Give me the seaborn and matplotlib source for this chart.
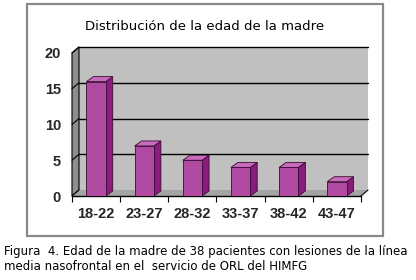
import matplotlib
matplotlib.use("Agg")
import matplotlib.pyplot as plt
import matplotlib.transforms as mtransforms
from matplotlib.patches import Polygon, Rectangle
import seaborn as sns

sns.set_style("white")
plt.rcParams['font.family'] = ['Liberation Sans', 'DejaVu Sans']

# data
age_groups = ["18-22", "23-27", "28-32", "33-37", "38-42", "43-47"]
counts = [16, 7, 5, 4, 4, 2]
y_ticks = [0, 5, 10, 15, 20]
title = "Distribución de la edad de la madre"
caption = ("Figura  4. Edad de la madre de 38 pacientes con lesiones de la línea\n"
           "media nasofrontal en el  servicio de ORL del HIMFG")

front_col = "#B04AA0"
side_col = "#8A1C7C"
top_col = "#C96BBB"
edge_col = "#3a0a35"

fig = plt.figure(figsize=(4.16, 2.8), dpi=100)
fig.patch.set_facecolor("white")

# outer frame of the chart
fig.add_artist(Rectangle((27 / 416, 1 - 236 / 280), 356 / 416, 232 / 280,
                         transform=fig.transFigure, fill=False,
                         edgecolor="#8a8a8a", lw=1.6))

ax = fig.add_axes([72 / 416, 1 - 196 / 280, 289 / 416, 143 / 280])
ax.set_facecolor("none")
ident = mtransforms.IdentityTransform()

# depth shift for the 3d look
depth = mtransforms.ScaledTranslation(7 / 100, 6 / 100, fig.dpi_scale_trans)
back = ax.transAxes + depth
back_y = ax.get_yaxis_transform() + depth
front = ax.transAxes

# back wall, left wall, floor
ax.add_patch(Rectangle((0, 0), 1, 1, transform=back, facecolor="#C0C0C0",
                       edgecolor="none", zorder=0, clip_on=False))
lw_pts = [front.transform((0, 0)), front.transform((0, 1)),
          back.transform((0, 1)), back.transform((0, 0))]
ax.add_patch(Polygon(lw_pts, closed=True, transform=ident, clip_on=False,
                     facecolor="#8E8E8E", edgecolor="black", lw=0.8, zorder=1))
fl_pts = [front.transform((0, 0)), front.transform((1, 0)),
          back.transform((1, 0)), back.transform((0, 0))]
ax.add_patch(Polygon(fl_pts, closed=True, transform=ident, clip_on=False,
                     facecolor="#A4A4A4", edgecolor="none", zorder=1))

sns.barplot(x=age_groups, y=counts, color=front_col, saturation=1,
            width=0.4, ax=ax, edgecolor=edge_col, linewidth=0.6, zorder=3)
ax.set_ylim(0, 20)
ax.set_xlim(-0.5, len(age_groups) - 0.5)
bars = [p for p in ax.patches if p.get_zorder() == 3]

# gridlines on the back wall and diagonals on the left wall
for t in y_ticks[1:]:
    ax.plot([0, 1], [t, t], transform=back_y, color="black", lw=1,
            zorder=1.5, clip_on=False)
for t in y_ticks:
    p0 = ax.get_yaxis_transform().transform((0, t))
    p1 = back_y.transform((0, t))
    ax.add_line(plt.Line2D([p0[0], p1[0]], [p0[1], p1[1]], transform=ident,
                           color="black", lw=0.8, zorder=2, clip_on=False))
# floor front edge and right diagonal
ax.plot([0, 1], [0, 0], transform=front, color="black", lw=1,
        clip_on=False, zorder=2)
p0 = front.transform((1, 0))
p1 = back.transform((1, 0))
ax.add_line(plt.Line2D([p0[0], p1[0]], [p0[1], p1[1]], transform=ident,
                       color="black", lw=0.8, zorder=2, clip_on=False))

# 3d faces of the bars
bdepth = mtransforms.ScaledTranslation(7 / 100, 5 / 100, fig.dpi_scale_trans)
for bar in bars:
    x0, x1 = bar.get_x(), bar.get_x() + bar.get_width()
    h = bar.get_height()
    f = ax.transData
    b = ax.transData + bdepth
    side = [f.transform((x1, 0)), f.transform((x1, h)),
            b.transform((x1, h)), b.transform((x1, 0))]
    top = [f.transform((x0, h)), f.transform((x1, h)),
           b.transform((x1, h)), b.transform((x0, h))]
    ax.add_patch(Polygon(side, closed=True, transform=ident, facecolor=side_col,
                         edgecolor=edge_col, lw=0.6, zorder=2.5, clip_on=False))
    ax.add_patch(Polygon(top, closed=True, transform=ident, facecolor=top_col,
                         edgecolor=edge_col, lw=0.6, zorder=2.5, clip_on=False))

for s in ax.spines.values():
    s.set_visible(False)
ax.set_yticks(y_ticks)
ax.set_yticklabels([str(t) for t in y_ticks], fontsize=10.5, fontweight="bold")
ax.set_xticks([i - 0.5 for i in range(len(age_groups) + 1)], minor=True)
ax.tick_params(axis="x", which="major", length=0, pad=8, labelsize=10.5)
ax.tick_params(axis="x", which="minor", length=4, width=0.8, direction="out",
               color="black")
ax.tick_params(axis="y", length=4, width=0.8, direction="out", color="black",
               pad=4)
ax.tick_params(axis="x", which="both", bottom=True)
for lab in ax.get_xticklabels():
    lab.set_fontweight("bold")
ax.set_xlabel("")
ax.set_ylabel("")

fig.text(205 / 416, 1 - 27 / 280, title, ha="center", va="center",
         fontsize=9.5, family="DejaVu Sans", color="black")
fig.text(4 / 416, 1 - 259 / 280, caption, ha="left", va="center",
         fontsize=8.5, family="DejaVu Sans", linespacing=1.2, color="black")

fig.savefig("out.png", dpi=100)
